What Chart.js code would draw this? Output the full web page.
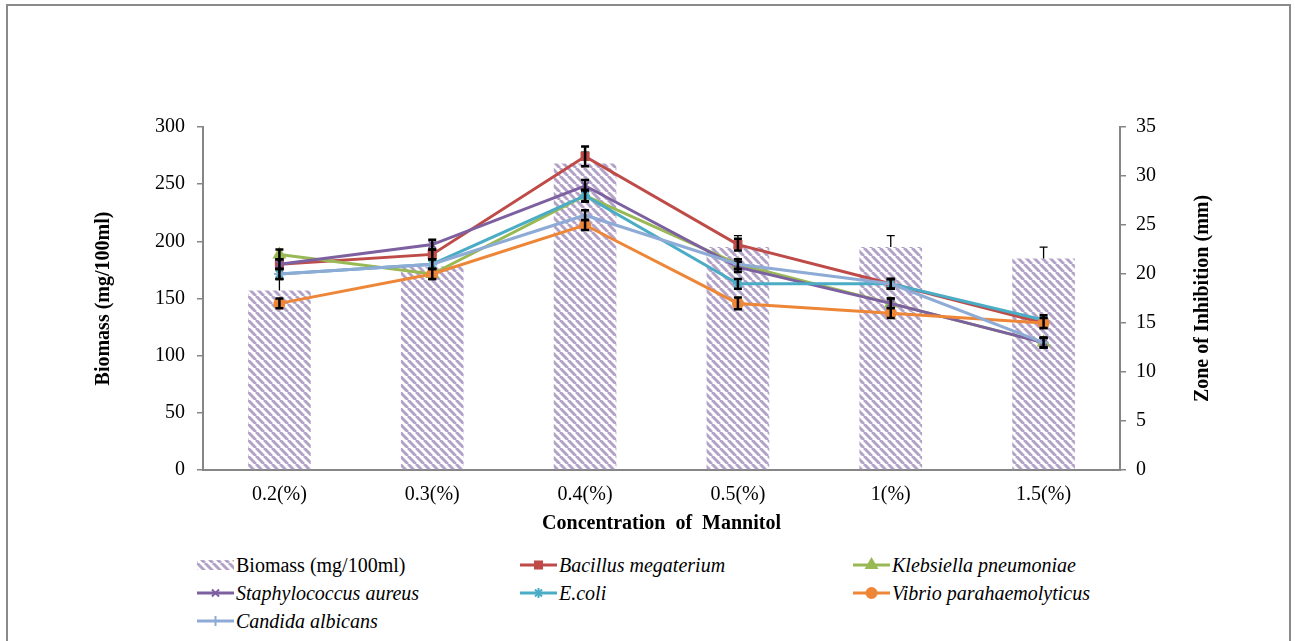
<!DOCTYPE html>
<html>
<head>
<meta charset="utf-8">
<script src="https://cdn.jsdelivr.net/npm/chart.js@4.4.0/dist/chart.umd.min.js"></script>
<style>
body { margin: 0; background: #fff; width: 1295px; height: 641px; overflow: hidden; position: relative; font-family: 'Liberation Serif', 'Times New Roman', serif; }
#frame { position: absolute; left: 6px; top: 4px; width: 1281px; height: 700px; border: 2px solid #8a8a8a; }
#chart { position: absolute; left: 0; top: 0; }
.leg { position: absolute; display: flex; align-items: center; font-size: 20px; height: 24px; color: #000; white-space: nowrap; }
.leg canvas { margin-right: 2px; }
</style>
</head>
<body>
<div id="frame"></div>
<canvas id="chart" width="1295" height="545"></canvas>
<div id="legend"></div>
<script>
// valores
const categories = ['0.2(%)', '0.3(%)', '0.4(%)', '0.5(%)', '1(%)', '1.5(%)'];
const biomass = [157, 178, 268, 195, 195, 185];
const biomassErr = [10, 10, 10, 10, 10, 10];

const bacillus = [21, 22, 32, 23, 19, 15];
const klebsiella = [22, 20, 28, 21, 17, 13];
const staphylococcus = [21, 23, 29, 20.7, 17, 13];
const ecoli = [20, 21, 28, 19, 19, 15.3];
const vibrio = [17, 20, 25, 17, 16, 15];
const candida = [20, 21, 26, 21, 19, 13];

const bacillusErr = [0.5, 0.5, 1, 0.6, 0.5, 0.5];
const klebsiellaErr = [0.5, 0.5, 0.6, 0.5, 0.5, 0.5];
const staphylococcusErr = [0.5, 0.5, 0.6, 0.5, 0.5, 0.5];
const ecoliErr = [0.5, 0.5, 0.6, 0.5, 0.5, 0.5];
const vibrioErr = [0.5, 0.5, 0.5, 0.6, 0.5, 0.5];
const candidaErr = [0.5, 0.5, 0.5, 0.5, 0.5, 0.5];

const biomassTicks = [0, 50, 100, 150, 200, 250, 300];
const zoneTicks = [0, 5, 10, 15, 20, 25, 30, 35];

const FONT = "'Liberation Serif', 'Times New Roman', serif";
const AXIS = '#868686';
const HATCH = '#b3a2c7';
const zoneTitle = 'Zone of Inhibition (mm)';

function hatchPattern(ctx) {
    const s = 8;
    const c = document.createElement('canvas');
    c.width = s; c.height = s;
    const g = c.getContext('2d');
    g.strokeStyle = HATCH;
    g.lineWidth = 3;
    for (const k of [-s, 0, s]) {
        g.beginPath();
        g.moveTo(k, 0);
        g.lineTo(k + s, s);
        g.stroke();
    }
    return ctx.createPattern(c, 'repeat');
}

// barras de error dibujadas junto con cada serie
const errorBars = {
    id: 'errorBars',
    afterDatasetDraw(chart, args) {
        const ds = chart.data.datasets[args.index];
        if (!ds.errors) return;
        const meta = args.meta;
        const scale = chart.scales[meta.yAxisID];
        const isBar = ds.type === 'bar';
        const ctx = chart.ctx;
        ctx.save();
        ctx.strokeStyle = '#000';
        ctx.lineWidth = isBar ? 1.3 : 2.5;
        meta.data.forEach((el, j) => {
            const v = ds.data[j], e = ds.errors[j];
            const top = scale.getPixelForValue(v + e);
            const bottom = scale.getPixelForValue(isBar ? v : v - e);
            const x = el.x;
            ctx.beginPath();
            ctx.moveTo(x, bottom);
            ctx.lineTo(x, top);
            ctx.moveTo(x - 4, top);
            ctx.lineTo(x + 4, top);
            if (!isBar) {
                ctx.moveTo(x - 4, bottom);
                ctx.lineTo(x + 4, bottom);
            }
            ctx.stroke();
        });
        ctx.restore();
    }
};

// titulo del eje derecho, leido de abajo hacia arriba como en Excel
const rightTitle = {
    id: 'rightTitle',
    afterDraw(chart) {
        const a = chart.chartArea;
        const ctx = chart.ctx;
        ctx.save();
        ctx.translate(1203, (a.top + a.bottom) / 2);
        ctx.rotate(-Math.PI / 2);
        ctx.font = 'bold 20px ' + FONT;
        ctx.fillStyle = '#000';
        ctx.textAlign = 'center';
        ctx.textBaseline = 'middle';
        ctx.fillText(zoneTitle, 0, 0);
        ctx.restore();
    }
};

const series = [
    { label: 'Bacillus megaterium', data: bacillus, errors: bacillusErr, color: '#be4b48', style: 'rect', radius: 5 },
    { label: 'Klebsiella pneumoniae', data: klebsiella, errors: klebsiellaErr, color: '#98b954', style: 'triangle', radius: 6 },
    { label: 'Staphylococcus aureus', data: staphylococcus, errors: staphylococcusErr, color: '#7d60a0', style: 'crossRot', radius: 5 },
    { label: 'E.coli', data: ecoli, errors: ecoliErr, color: '#4aacc5', style: 'star', radius: 5 },
    { label: 'Vibrio parahaemolyticus', data: vibrio, errors: vibrioErr, color: '#ee8638', style: 'circle', radius: 5 },
    { label: 'Candida albicans', data: candida, errors: candidaErr, color: '#8eabd6', style: 'cross', radius: 5 }
];

const ctx = document.getElementById('chart').getContext('2d');
const pattern = hatchPattern(ctx);

const datasets = [{
    type: 'bar',
    label: 'Biomass (mg/100ml)',
    data: biomass,
    errors: biomassErr,
    yAxisID: 'y',
    backgroundColor: pattern,
    borderWidth: 0,
    categoryPercentage: 1,
    barPercentage: 0.41,
    order: 10
}];

series.forEach((s, i) => {
    datasets.push({
        type: 'line',
        label: s.label,
        data: s.data,
        errors: s.errors,
        yAxisID: 'y1',
        borderColor: s.color,
        backgroundColor: s.color,
        pointBorderColor: s.color,
        pointBackgroundColor: s.color,
        borderWidth: 3,
        pointStyle: s.style,
        pointRadius: s.radius,
        pointBorderWidth: 2,
        tension: 0,
        fill: false,
        order: series.length - i
    });
});

const tickFont = { family: FONT, size: 20 };
const titleFont = { family: FONT, size: 20, weight: 'bold' };

const chart = new Chart(ctx, {
    type: 'bar',
    data: { labels: categories, datasets },
    plugins: [errorBars, rightTitle],
    options: {
        responsive: false,
        animation: false,
        layout: { padding: { top: 127, left: 88, right: 78, bottom: 5 } },
        plugins: {
            legend: { display: false },
            tooltip: { enabled: false }
        },
        scales: {
            x: {
                grid: { display: false, drawTicks: false },
                border: { display: true, color: AXIS, width: 2 },
                ticks: { color: '#000', font: tickFont, padding: 13 },
                title: { display: true, text: 'Concentration  of  Mannitol', color: '#000', font: titleFont, padding: 4 },
                afterFit: scale => { scale.height = 70; }
            },
            y: {
                position: 'left',
                min: biomassTicks[0],
                max: biomassTicks[biomassTicks.length - 1],
                ticks: { stepSize: biomassTicks[1] - biomassTicks[0], color: '#000', font: tickFont, padding: 12 },
                grid: { drawOnChartArea: false, drawTicks: true, tickLength: 6, color: AXIS, lineWidth: 1.5 },
                border: { color: AXIS, width: 2 },
                title: { display: true, text: 'Biomass (mg/100ml)', color: '#000', font: titleFont, padding: 4 },
                afterFit: scale => { scale.width = 115; }
            },
            y1: {
                position: 'right',
                min: zoneTicks[0],
                max: zoneTicks[zoneTicks.length - 1],
                ticks: { stepSize: zoneTicks[1] - zoneTicks[0], color: '#000', font: tickFont, padding: 10 },
                grid: { drawOnChartArea: false, drawTicks: true, tickLength: 6, color: AXIS, lineWidth: 1.5 },
                border: { color: AXIS, width: 2 },
                title: { display: false },
                afterFit: scale => { scale.width = 97; }
            }
        }
    }
});

// leyenda en HTML (nombres de especies en cursiva)
const legendCols = [197, 520, 853];
const legendRows = [565, 593, 621];
const legendDiv = document.getElementById('legend');

function drawSwatch(c, item) {
    const g = c.getContext('2d');
    const w = c.width, h = c.height, my = h / 2;
    if (item.bar) {
        g.fillStyle = hatchPattern(g);
        g.fillRect(0, my - 5, w, 10);
        return;
    }
    g.strokeStyle = item.color;
    g.lineWidth = 3;
    g.beginPath();
    g.moveTo(0, my);
    g.lineTo(w, my);
    g.stroke();
    g.fillStyle = item.color;
    g.lineWidth = 2;
    if (Chart.helpers && Chart.helpers.drawPoint) {
        Chart.helpers.drawPoint(g, { pointStyle: item.style, radius: item.radius, borderWidth: 2, rotation: 0 }, w / 2, my);
    }
}

const legendItems = [{ label: 'Biomass (mg/100ml)', bar: true }].concat(series);
legendItems.forEach((item, i) => {
    const div = document.createElement('div');
    div.className = 'leg';
    div.style.left = legendCols[i % 3] + 'px';
    div.style.top = (legendRows[Math.floor(i / 3)] - 12) + 'px';
    const c = document.createElement('canvas');
    c.width = 37; c.height = 20;
    drawSwatch(c, item);
    const span = document.createElement('span');
    span.textContent = item.label;
    if (!item.bar) span.style.fontStyle = 'italic';
    div.appendChild(c);
    div.appendChild(span);
    legendDiv.appendChild(div);
});
</script>
</body>
</html>
